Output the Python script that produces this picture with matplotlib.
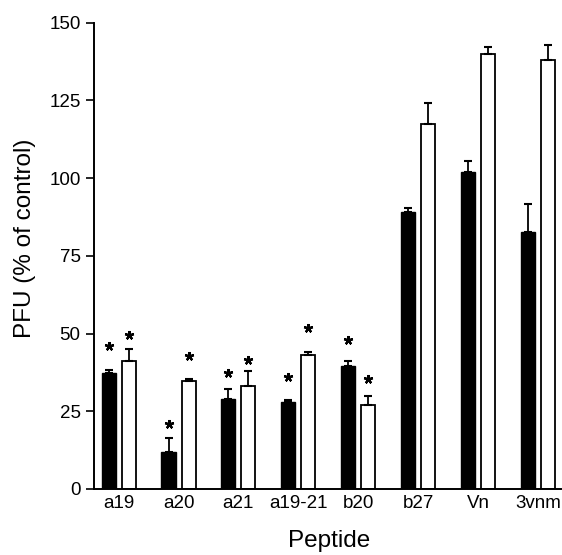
import matplotlib.pyplot as plt
import numpy as np

plt.rcParams['font.family'] = ['Liberation Sans', 'DejaVu Sans']

peptides = ['a19', 'a20', 'a21', 'a19-21', 'b20', 'b27', 'Vn', '3vnm']

# black bars
black_vals = [37.2, 11.9, 28.9, 27.9, 39.6, 89.2, 102.1, 82.6]
black_err = [1.1, 4.6, 3.4, 0.7, 1.7, 1.3, 3.3, 9.1]
# white bars
white_vals = [41.2, 34.6, 33.1, 43.1, 27.0, 117.4, 139.9, 138.0]
white_err = [3.7, 0.7, 4.9, 0.9, 2.9, 6.7, 2.3, 5.0]

# asterisk heights (None = no asterisk)
black_star = [46.1, 20.8, 37.2, 36.1, 47.9, None, None, None]
white_star = [49.5, 42.8, 41.5, 51.7, 35.4, None, None, None]

x = np.arange(len(peptides))
off = 0.167
w = 0.234

fig = plt.figure(figsize=(5.62, 5.55), dpi=100)
ax = fig.add_axes([0.168, 0.119, 0.83, 0.840])

ax.bar(x - off, black_vals, w, color='black', edgecolor='black', linewidth=1.0)
ax.bar(x + off, white_vals, w, color='white', edgecolor='black', linewidth=1.3)

# one-sided error bars
ax.errorbar(x - off, black_vals, yerr=[np.zeros(len(x)), black_err], fmt='none',
            ecolor='black', elinewidth=1.3, capsize=3, capthick=1.5)
ax.errorbar(x + off, white_vals, yerr=[np.zeros(len(x)), white_err], fmt='none',
            ecolor='black', elinewidth=1.3, capsize=3, capthick=1.5)

for i in range(len(x)):
    if black_star[i] is not None:
        ax.plot(x[i] - off, black_star[i], marker=(5, 2, 0), ms=6.5, mew=1.6, color='black')
    if white_star[i] is not None:
        ax.plot(x[i] + off, white_star[i], marker=(5, 2, 0), ms=6.5, mew=1.6, color='black')

ax.set_xlim(-0.404, 7.384)
ax.set_ylim(0, 150)
ax.set_yticks([0, 25, 50, 75, 100, 125, 150])
ax.set_xticks(x)
ax.set_xticklabels(peptides)

for s in ['top', 'right']:
    ax.spines[s].set_visible(False)
ax.spines['left'].set_linewidth(1.4)
ax.spines['bottom'].set_linewidth(1.4)

ax.tick_params(axis='y', direction='out', length=6, width=1.2, pad=4, labelsize=13.5)
ax.tick_params(axis='x', length=0, pad=4, labelsize=13.5)

ax.set_ylabel('PFU (% of control)', fontsize=17.5)
ax.yaxis.set_label_coords(-0.125, 0.537)
ax.set_xlabel('Peptide', fontsize=17.5)
ax.xaxis.set_label_coords(0.503, -0.088)

plt.savefig('out.png', dpi=100)
